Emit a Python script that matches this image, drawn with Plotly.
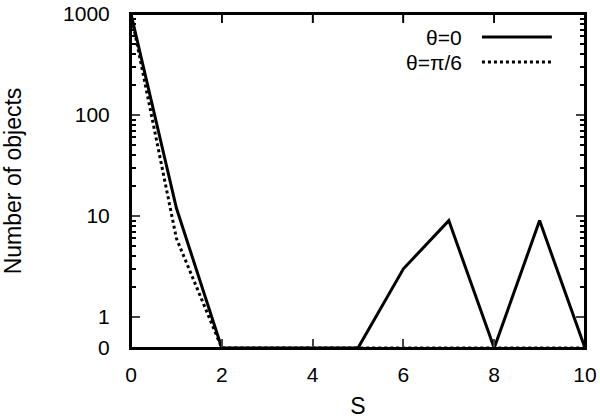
import numpy as np
import plotly.graph_objects as go

# Counts per S value
s_values = [0, 1, 2, 3, 4, 5, 6, 7, 8, 9, 10]
count_theta0 = [1000, 12, 0, 0, 0, 0, 3, 9, 0, 9, 0]
count_theta_pi6 = [1000, 6, 0, 0, 0, 0, 0, 0, 0, 0, 0]

series_names = ["θ=0", "θ=π/6"]
x_tick_vals = [0, 2, 4, 6, 8, 10]
y_tick_labels = ["0", "1", "10", "100", "1000"]

# zero can't sit on a log axis, so gnuplot-style it gets drawn at a floor level
ZERO_LEVEL = 0.493
FAMILY = "Liberation Sans, Arial, sans-serif"
FONT = dict(family=FAMILY, size=21, color="black")
TITLE_FONT = dict(family=FAMILY, size=23, color="black")
PLOT_H = 419 - 14 - 71


def floor_zero(values):
    return [v if v > 0 else ZERO_LEVEL for v in values]


fig = go.Figure()
fig.add_trace(go.Scatter(
    x=s_values, y=floor_zero(count_theta_pi6), mode="lines",
    name=series_names[1], line=dict(color="black", width=3, dash="dot"),
))
fig.add_trace(go.Scatter(
    x=s_values, y=floor_zero(count_theta0), mode="lines",
    name=series_names[0], line=dict(color="black", width=3),
))

# legend drawn by hand: text right-aligned, line sample on the right
legend_rows = [(series_names[0], "solid", 0.931), (series_names[1], "dot", 0.856)]
for label, dash, yy in legend_rows:
    fig.add_annotation(x=0.733, y=yy, xref="paper", yref="paper", text=label,
                       showarrow=False, xanchor="right", yanchor="middle", font=FONT)
    fig.add_shape(type="line", xref="paper", yref="paper", x0=0.773, x1=0.927,
                  y0=yy, y1=yy, line=dict(color="black", width=3, dash=dash))

# full frame + top ticks (the top mirror of the x axis was not showing up)
fig.add_shape(type="rect", xref="paper", yref="paper", x0=0, x1=1, y0=0, y1=1,
              line=dict(color="black", width=2), layer="above")
for xv in x_tick_vals[1:-1]:
    fig.add_shape(type="line", xref="x", yref="paper", x0=xv, x1=xv,
                  y0=1, y1=1 - 9 / PLOT_H, line=dict(color="black", width=1.5),
                  layer="above")

minor_vals = [m * 10 ** e for e in range(3) for m in range(2, 10)]

fig.update_xaxes(
    range=[0, 10], tickvals=x_tick_vals,
    ticks="inside", ticklen=9, tickwidth=1.5, mirror="allticks",
    showline=True, linewidth=2, linecolor="black", showgrid=False, zeroline=False,
    tickfont=FONT, ticklabelstandoff=7, ticklabeloverflow="allow",
    title=dict(text="S", font=TITLE_FONT, standoff=19),
)
fig.update_yaxes(
    type="log", range=[np.log10(ZERO_LEVEL), 3],
    tickvals=[ZERO_LEVEL, 1, 10, 100, 1000], ticktext=y_tick_labels,
    ticks="inside", ticklen=9, tickwidth=1.5, mirror="allticks",
    minor=dict(tickvals=minor_vals, ticks="inside", ticklen=5, tickwidth=1.5,
               tickcolor="black", showgrid=False),
    showline=True, linewidth=2, linecolor="black", showgrid=False, zeroline=False,
    tickfont=FONT, ticklabelstandoff=15, ticklabeloverflow="allow",
    title=dict(text="Number of objects", font=TITLE_FONT, standoff=38),
)

fig.update_layout(
    width=600, height=419,
    margin=dict(l=131, r=15, t=14, b=71, autoexpand=False),
    paper_bgcolor="white", plot_bgcolor="white",
    showlegend=False,
)

# drop the default page margin so the figure sits at the window's corner
fig.write_html("out.html", config={"displayModeBar": False},
               post_script="document.body.style.margin='0';")
